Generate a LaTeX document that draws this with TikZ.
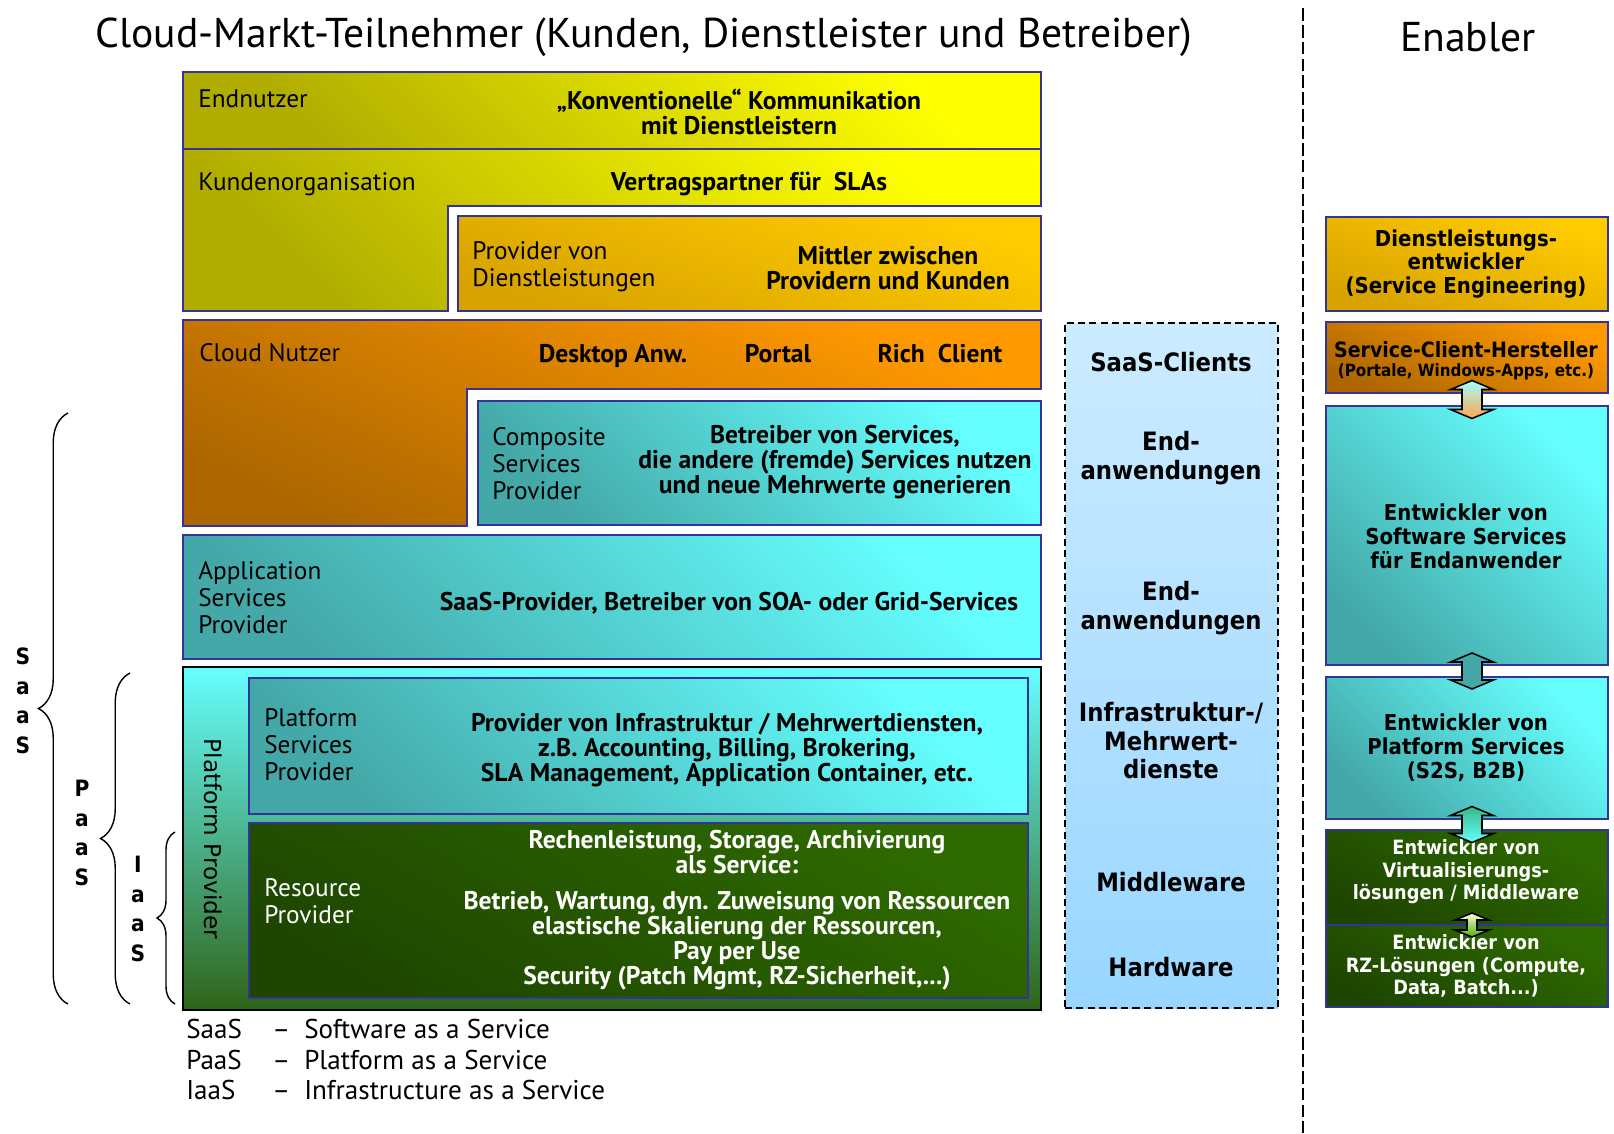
\documentclass[tikz,border=0pt]{standalone}
\usepackage{fontspec}
\setmainfont{PT Sans}
\newfontfamily\tahfont[FakeStretch=0.9]{DejaVu Sans}
\newfontfamily\dvfont{DejaVu Sans}
\usetikzlibrary{calc,fit,positioning,decorations.pathreplacing}

\definecolor{bordblue}{HTML}{333399}
\definecolor{yelLight}{HTML}{FFFF00}
\definecolor{yelDark}{HTML}{B0AC00}
\definecolor{goldLight}{HTML}{FFCC00}
\definecolor{goldDark}{HTML}{D8A200}
\definecolor{oraLight}{HTML}{FF9900}
\definecolor{oraDark}{HTML}{AD6600}
\definecolor{cyaLight}{HTML}{66FFFF}
\definecolor{cyaDark}{HTML}{44A8A8}
\definecolor{grnLight}{HTML}{2E6A00}
\definecolor{grnDark}{HTML}{1E4600}
\definecolor{ppBottom}{HTML}{2F6418}
\definecolor{skyTop}{HTML}{CCEBFF}
\definecolor{skyBot}{HTML}{99D6FF}

\newcommand\titlefont{\fontsize{29.6}{32}\selectfont}
\newcommand\lblfont{\fontsize{18}{19.2}\selectfont}
\newcommand\bldfont{\bfseries\fontsize{18.2}{17.8}\selectfont}
\newcommand\enabfont{\tahfont\bfseries\fontsize{15.6}{17}\selectfont}
\newcommand\grnfont{\tahfont\bfseries\fontsize{14}{16}\selectfont}
\newcommand\clifont{\tahfont\bfseries\fontsize{18}{20.3}\selectfont}

% double block arrow: centre, half length, head half width, shaft half width, head length, style
\newcommand\blockarrow[6]{%
  \shade[#6] ($(#1)+(0,-#2)$) -- ++(#3,#5) -- ++({#4-#3},0) -- ++(0,{2*#2-2*#5})
    -- ++({#3-#4},0) -- ++(-#3,#5) -- ++(-#3,-#5) -- ++({#3-#4},0)
    -- ++(0,{-2*#2+2*#5}) -- ++({#4-#3},0) -- cycle;}

\tikzset{
    layer/.style={draw=bordblue, line width=1.4pt, inner sep=0pt},
    yellowfill/.style={bottom color=yelDark, top color=yelLight, shading angle=-45},
    goldfill/.style={bottom color=goldDark, top color=goldLight, shading angle=-20},
    orangefill/.style={bottom color=oraDark, top color=oraLight, shading angle=-25},
    cyanfill/.style={bottom color=cyaDark, top color=cyaLight, shading angle=-45},
    greenfill/.style={bottom color=grnDark, top color=grnLight, shading angle=-30},
    lbl/.style={anchor=west, align=left, inner sep=0pt, font=\lblfont},
    bld/.style={align=center, inner sep=0pt, font=\bldfont},
    enab/.style={align=center, inner sep=0pt, font=\enabfont},
    cli/.style={align=center, inner sep=0pt, font=\clifont},
    letters/.style={align=center, inner sep=0pt, font=\tahfont\bfseries\fontsize{16}{21}\selectfont},
    curly/.style={decorate, decoration={brace, amplitude=#1}, line width=1pt},
    blockarr/.style={draw=black, line width=1.1pt, line join=miter}
}

\begin{document}
\begin{tikzpicture}[x=0.25mm, y=-0.25mm]
    \useasboundingbox (0,0) rectangle (1614,1133);

    % headings
    \node[font=\titlefont] (title) at (644,37) {Cloud-Markt-Teilnehmer (Kunden, Dienstleister und Betreiber)};
    \node[font=\titlefont] (enabler) at (1468,37) {Enabler};
    \draw[line width=1.2pt, dash pattern=on 9pt off 3pt] (1303,8) -- (1303,1133);

    % market participants
    \node[layer, yellowfill, fit={(183,72) (1041,149)}] (endn) {};
    \shade[layer, yellowfill] (183,149) -- (1041,149) -- (1041,206) -- (448,206) -- (448,311) -- (183,311) -- cycle;
    \node[layer, goldfill, fit={(458,216) (1041,311)}] (provdl) {};
    \shade[layer, orangefill] (183,320) -- (1041,320) -- (1041,389) -- (467,389) -- (467,526) -- (183,526) -- cycle;
    \node[layer, cyanfill, fit={(478,401) (1041,525)}] (comp) {};
    \node[layer, cyanfill, fit={(183,535) (1041,659)}] (appl) {};
    \node[draw=black, line width=1.4pt, inner sep=0pt, top color=cyaLight, bottom color=ppBottom, fit={(183,667) (1041,1010)}] (platprov) {};
    \node[layer, cyanfill, fit={(249,678) (1028,814)}] (platserv) {};
    \node[layer, greenfill, fit={(249,823) (1028,998)}] (res) {};

    % texts
    \node[lbl] (endnL) at (198,99) {Endnutzer};
    \node[bld] (endnT) at (739,112) {„Konventionelle“ Kommunikation\\mit Dienstleistern};
    \node[lbl] (kundL) at (198,184) {Kundenorganisation};
    \node[bld, anchor=base] (kundT) at (749,190) {Vertragspartner für\ \ SLAs};
    \node[lbl] (provL) at (472,267) {Provider von\\Dienstleistungen};
    \node[bld] (provT) at (888,268) {Mittler zwischen\\Providern und Kunden};
    \node[lbl] (cloudL) at (199,353) {Cloud Nutzer};
    \node[bld, anchor=base] (desk) at (613,362) {Desktop Anw.};
    \node[bld, anchor=base] (portal) at (778,362) {Portal};
    \node[bld, anchor=base] (rich) at (940,362) {Rich\ \ Client};
    \node[lbl] (compL) at (492,464) {Composite\\Services\\Provider};
    \node[bld] (compT) at (835,462) {Betreiber von Services,\\die andere (fremde) Services nutzen\\und neue Mehrwerte generieren};
    \node[lbl] (applL) at (198,598) {Application\\Services\\Provider};
    \node[bld, anchor=base] (applT) at (729,610) {SaaS-Provider, Betreiber von SOA- oder Grid-Services};
    \node[font=\dvfont\fontsize{16.5}{18}\selectfont, rotate=-90, inner sep=0pt] (platprovL) at (213,839) {Platform Provider};
    \node[lbl] (platservL) at (264,745) {Platform\\Services\\Provider};
    \node[bld] (platservT) at (727,750) {Provider von Infrastruktur / Mehrwertdiensten,\\z.B. Accounting, Billing, Brokering,\\SLA Management, Application Container, etc.};
    \node[lbl, text=white] (resL) at (264,901) {Resource\\Provider};
    \node[bld, text=white] (resT1) at (737,852) {Rechenleistung, Storage, Archivierung\\als Service:};
    \node[bld, text=white] (resT2) at (737,941) {Betrieb, Wartung, dyn. Zuweisung von Ressourcen\\elastische Skalierung der Ressourcen,\\Pay per Use\\Security (Patch Mgmt, RZ-Sicherheit,...)};

    % legend
    \node[anchor=west, inner sep=0pt, font=\fontsize{19.3}{21.6}\selectfont] (legend) at (186,1063) {%
      \begin{tabular}{@{}p{21.5mm}@{}p{8mm}@{}l@{}}
        SaaS & – & Software as a Service\\
        PaaS & – & Platform as a Service\\
        IaaS & – & Infrastructure as a Service
      \end{tabular}};

    % braces
    \draw[curly=21pt] (68,1004) -- (68,413);
    \draw[curly=21pt] (130,1004) -- (130,673);
    \draw[curly=12.8pt] (175,1004) -- (175,832);
    \node[letters] (saas) at (23,701) {S\\a\\a\\S};
    \node[letters] (paas) at (82,833) {P\\a\\a\\S};
    \node[letters] (iaas) at (138,909) {I\\a\\a\\S};

    % technical layers
    \node[draw=black, line width=1pt, dash pattern=on 5pt off 3pt, top color=skyTop, bottom color=skyBot, inner sep=0pt, fit={(1065,323) (1278,1008)}] (layers) {};
    \node[cli] (c1) at (1171,362) {SaaS-Clients};
    \node[cli] (c2) at (1171,458) {End-\\anwendungen};
    \node[cli] (c3) at (1171,608) {End-\\anwendungen};
    \node[cli] (c4) at (1171,741) {Infrastruktur-/\\Mehrwert-\\dienste};
    \node[cli] (c5) at (1171,882) {Middleware};
    \node[cli] (c6) at (1171,967) {Hardware};

    % enablers
    \node[layer, goldfill, fit={(1326,217) (1608,311)}] (dle) {};
    \node[layer, orangefill, fit={(1326,322) (1608,393)}] (sch) {};
    \node[layer, cyanfill, fit={(1326,406) (1608,665)}] (sws) {};
    \node[layer, cyanfill, fit={(1326,677) (1608,819)}] (pls) {};
    \node[layer, greenfill, fit={(1326,830) (1608,925)}] (vir) {};
    \node[layer, greenfill, fit={(1326,925) (1608,1007)}] (rzl) {};
    \node[enab] (dleT) at (1466,264) {Dienstleistungs-\\entwickler\\(Service Engineering)};
    \node[enab, font=\tahfont\bfseries\fontsize{15}{17}\selectfont] (schT) at (1466,350) {Service-Client-Hersteller};
    \node[enab, font=\tahfont\bfseries\fontsize{12}{13}\selectfont] (schS) at (1466,372) {(Portale, Windows-Apps, etc.)};
    \node[enab] (swsT) at (1466,536) {Entwickler von\\Software Services\\für Endanwender};
    \node[enab] (plsT) at (1466,748) {Entwickler von\\Platform Services\\(S2S, B2B)};
    \node[enab, font=\grnfont, text=white] (virT) at (1466,872) {Entwickler von\\Virtualisierungs-\\lösungen / Middleware};
    \node[enab, font=\grnfont, text=white] (rzlT) at (1466,966) {Entwickler von\\RZ-Lösungen (Compute,\\Data, Batch...)};

    % arrows between the enablers
    \coordinate (a1) at ($(sch.south)!0.5!(sws.north)+(5,0)$);
    \coordinate (a2) at ($(sws.south)!0.5!(pls.north)+(5,0)$);
    \coordinate (a3) at ($(pls.south)!0.5!(vir.north)+(5,0)$);
    \coordinate (a4) at ($(vir.south)!0.5!(rzl.north)+(5,0)$);
    \blockarrow{a1}{19}{21.5}{10}{9}{blockarr, top color=cyaLight!60!white, bottom color=orange!70!white}
    \blockarrow{a2}{18}{21.5}{10}{9}{blockarr, top color=cyaDark, middle color=cyaLight, bottom color=cyaDark}
    \blockarrow{a3}{18}{21.5}{10}{9}{blockarr, top color=cyaDark!80!green, bottom color=cyaLight}
    \blockarrow{a4}{12}{17}{5}{7}{blockarr, top color=yellow!15!white, bottom color=green!40!olive}
\end{tikzpicture}
\end{document}
